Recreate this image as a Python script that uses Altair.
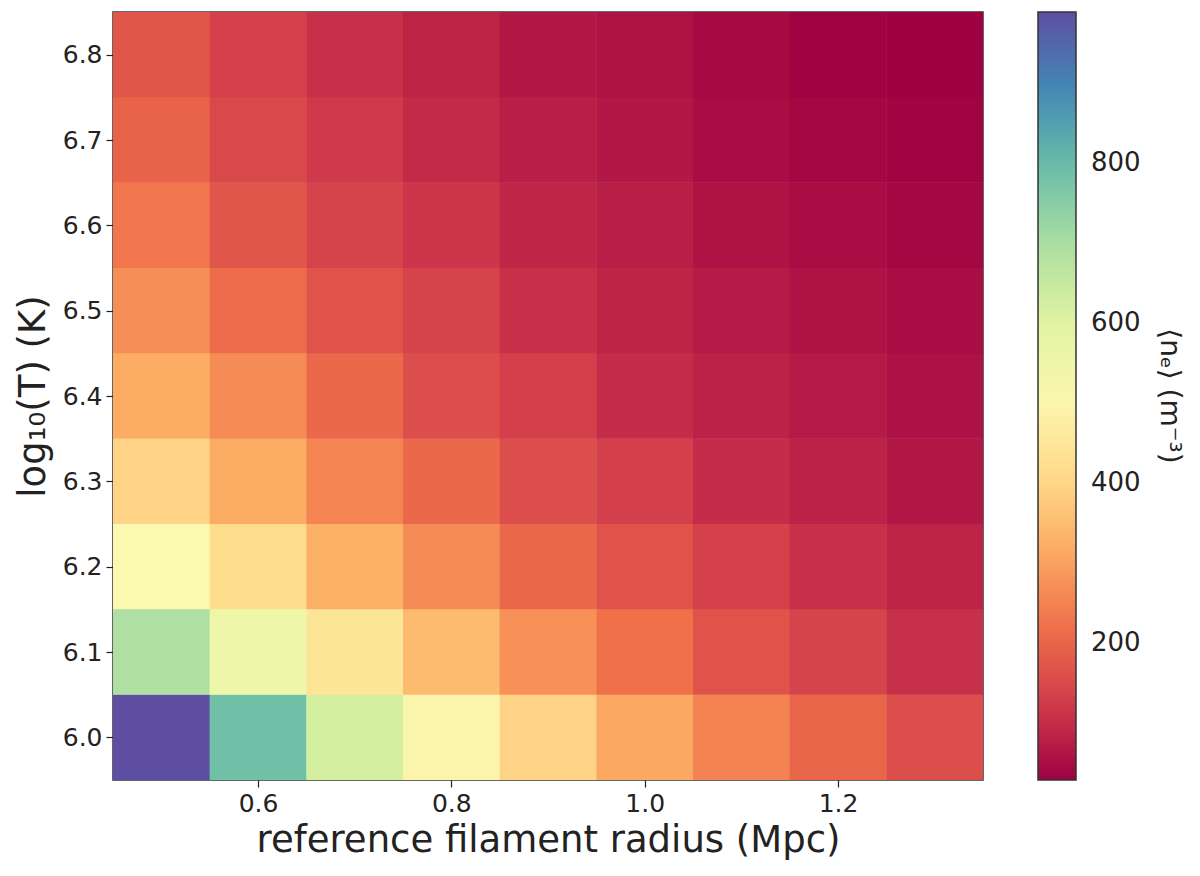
import altair as alt
import pandas as pd

radius = [0.5, 0.6, 0.7, 0.8, 0.9, 1.0, 1.1, 1.2, 1.3]
logT = [6.0, 6.1, 6.2, 6.3, 6.4, 6.5, 6.6, 6.7, 6.8]

# rows: logT from 6.0 (first) to 6.8 (last); columns: radius 0.5 .. 1.3
ne_6_0 = [989, 787, 624, 499, 394, 312, 250, 202, 159]
ne_6_1 = [691, 557, 442, 346, 274, 221, 168, 139, 106]
ne_6_2 = [509, 413, 327, 264, 207, 168, 135, 106, 85]
ne_6_3 = [394, 317, 255, 207, 159, 130, 101, 82, 67]
ne_6_4 = [317, 264, 207, 159, 130, 101, 82, 69, 56]
ne_6_5 = [269, 211, 168, 139, 106, 87, 72, 58, 48]
ne_6_6 = [231, 173, 139, 115, 91, 77, 58, 48, 41]
ne_6_7 = [197, 149, 120, 96, 77, 67, 48, 41, 34]
ne_6_8 = [173, 135, 106, 87, 67, 58, 43, 32, 29]
rows = [ne_6_0, ne_6_1, ne_6_2, ne_6_3, ne_6_4, ne_6_5, ne_6_6, ne_6_7, ne_6_8]

records = []
for t, row in zip(logT, rows):
    for r, v in zip(radius, row):
        records.append({"r": r, "T": t, "ne": v})
df = pd.DataFrame(records)

FONT = "DejaVu Sans"

chart = alt.Chart(df).transform_calculate(
    r0="datum.r - 0.05", r1="datum.r + 0.0505",
    t0="datum.T - 0.05", t1="datum.T + 0.0505",
).mark_rect(strokeWidth=0).encode(
    x=alt.X("r0:Q", scale=alt.Scale(domain=[0.45, 1.35], nice=False, zero=False, clamp=True),
            axis=alt.Axis(values=[0.6, 0.8, 1.0, 1.2], format=".1f",
                          title="reference filament radius (Mpc)", titlePadding=6)),
    x2="r1:Q",
    y=alt.Y("t0:Q", scale=alt.Scale(domain=[5.95, 6.85], nice=False, zero=False, clamp=True),
            axis=alt.Axis(values=logT, format=".1f", title="log₁₀(T) (K)", titlePadding=10)),
    y2="t1:Q",
    color=alt.Color("ne:Q",
                    scale=alt.Scale(scheme="spectral", domain=[29, 989], nice=False),
                    legend=alt.Legend(
                        title="⟨nₑ⟩ (m⁻³)", values=[200, 400, 600, 800],
                        gradientLength=768, gradientThickness=38,
                        gradientStrokeColor="#333", gradientStrokeWidth=1.5,
                        labelFontSize=26, labelFont=FONT, labelColor="#222",
                        labelOffset=15,
                        titleFontSize=28, titleFont=FONT, titleFontWeight="normal",
                        titleColor="#222", titleOrient="right",
                        titleAnchor="middle", titlePadding=14,
                        offset=55, padding=0,
                    )),
).properties(
    width=870, height=768,
    padding={"left": 6, "top": 4, "right": 4, "bottom": 4},
).configure_view(
    stroke="#333", strokeWidth=1.5,
).configure_axis(
    labelFont=FONT, labelFontSize=25, labelColor="#222",
    titleFont=FONT, titleFontSize=37, titleFontWeight="normal", titleColor="#222",
    tickColor="#222", tickSize=7, tickWidth=1.2, domain=False, grid=False,
    labelPadding=4,
)

chart.save("out.html", embed_options={"renderer": "svg", "actions": False})
